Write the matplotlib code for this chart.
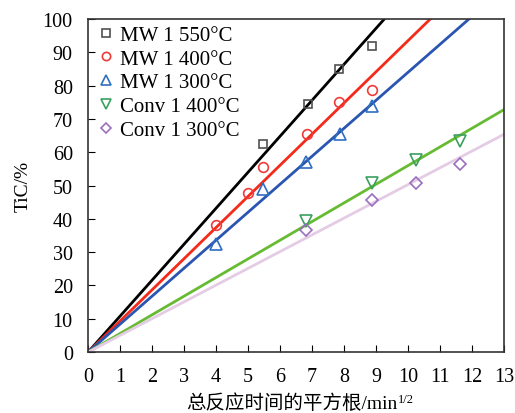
import matplotlib
matplotlib.use("Agg")
import matplotlib.pyplot as plt
import numpy as np

plt.rcParams['font.family'] = ['Liberation Serif', 'Noto Sans CJK SC']

# sqrt(time) / TiC % readings
mw550_x = [5.48, 6.86, 7.84, 8.86]
mw550_y = [62.6, 74.6, 85.0, 91.8]
mw400_x = [4.0, 4.99, 5.48, 6.83, 7.84, 8.86]
mw400_y = [38.2, 47.8, 55.6, 65.5, 75.0, 78.6]
mw300_x = [4.0, 5.48, 6.81, 7.86, 8.86]
mw300_y = [32.4, 48.9, 57.0, 65.5, 74.0]
cv400_x = [6.81, 8.86, 10.25, 11.62]
cv400_y = [39.3, 50.9, 57.7, 63.4]
cv300_x = [6.81, 8.86, 10.25, 11.62]
cv300_y = [36.6, 45.8, 50.7, 56.5]

# fitted slopes (lines through origin)
slopes = [10.8, 9.35, 8.4, 5.6, 5.03]

labels = ['MW 1 550°C', 'MW 1 400°C', 'MW 1 300°C', 'Conv 1 400°C', 'Conv 1 300°C']
markers = ['s', 'o', '^', 'v', 'D']
mcolors = ['#505050', '#f03a3a', '#2f6fc0', '#3aa060', '#9a6fc0']
lcolors = ['#000000', '#f42a1a', '#2a55b0', '#66bb33', '#e4cce4']
msizes = [6, 7, 8, 8, 6]

fig = plt.figure(figsize=(5.15, 4.14), dpi=100)
ax = fig.add_axes([0.171, 0.147, 0.808, 0.805])

xs = [mw550_x, mw400_x, mw300_x, cv400_x, cv300_x]
ys = [mw550_y, mw400_y, mw300_y, cv400_y, cv300_y]
xl = np.array([0, 13])
for i in range(5):
    ax.plot(xl, slopes[i] * xl, color=lcolors[i], linewidth=2, zorder=2)
for i in range(5):
    ax.plot(xs[i], ys[i], markers[i], markerfacecolor='none', markeredgecolor=mcolors[i],
            markersize=msizes[i], markeredgewidth=1.2, label=labels[i], zorder=3)

ax.set_xlim(0, 13)
ax.set_ylim(0, 100)
ax.set_xticks(range(0, 14))
ax.set_yticks(range(0, 101, 10))
ax.tick_params(direction='in', length=5, labelsize=14.5, top=False, right=False)
ax.tick_params(axis='x', pad=11)
ax.tick_params(axis='y', pad=11)
for s in ax.spines.values():
    s.set_linewidth(1.2)
    s.set_color('#333333')

# x label: text plus small superscript drawn beside it
xlab = fig.text(0.566, 0.026, '总反应时间的平方根/min', fontsize=14, ha='center', va='center')
fig.canvas.draw()
bb = xlab.get_window_extent()
fig.text(bb.x1 / fig.bbox.width + 0.002, bb.y1 / fig.bbox.height, '1/2',
         fontsize=9, ha='left', va='top')
ax.set_ylabel('TiC/%', fontsize=14, labelpad=8)

ax.legend(loc='upper left', bbox_to_anchor=(-0.015, 1.015), frameon=False, fontsize=15,
          handletextpad=0.1, borderaxespad=0.15, labelspacing=0.2, handlelength=1.2,
          markerscale=0.85)

fig.savefig('out.png', dpi=100)
